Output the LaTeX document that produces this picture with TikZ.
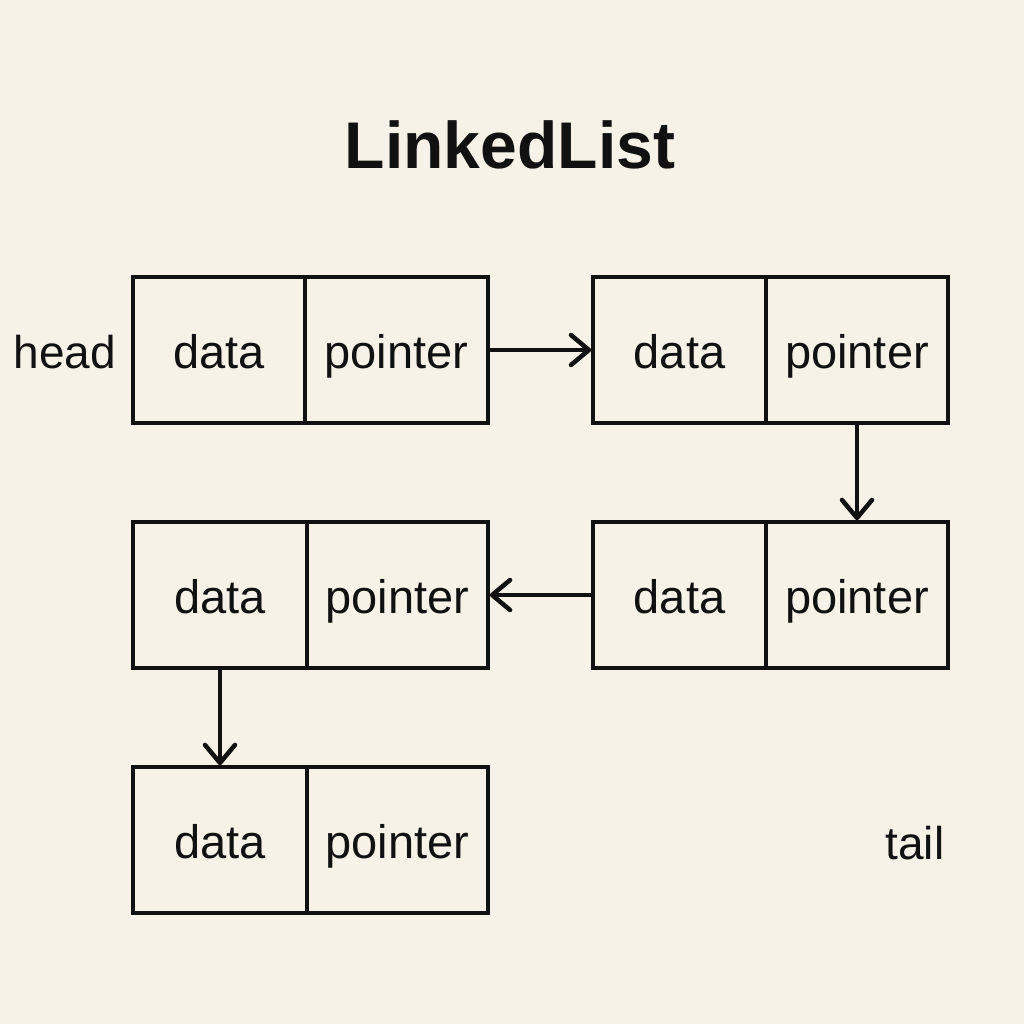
\documentclass[tikz,border=0pt]{standalone}
\usepackage{fontspec}
\setmainfont{Liberation Sans}
\usetikzlibrary{arrows.meta}
\definecolor{bg}{HTML}{F7F2E7}
\definecolor{ink}{HTML}{111111}
\begin{document}
\begin{tikzpicture}[x=1pt,y=-1pt,
  cell/.style={draw=ink, line width=3.6pt, minimum height=146pt, inner sep=0pt, text height=36pt, text depth=0pt, font=\fontsize{47}{50}\selectfont, text=ink},
  arr/.style={draw=ink, line width=3.6pt, -{Straight Barb[length=18pt,width=30pt,line width=4.5pt,round]}},
  lbl/.style={font=\fontsize{46}{50}\selectfont, text=ink, inner sep=0pt}]
\fill[bg] (0,0) rectangle (1024,1024);
\useasboundingbox (0,0) rectangle (1024,1024);
\node[font=\bfseries\fontsize{66}{70}\selectfont, text=ink] (title) at (510,145) {LinkedList};
% row 1 left
\node[cell, minimum width=172pt] (d1) at (219,350) {data};
\node[cell, minimum width=183pt] (p1) at (396.5,350) {pointer};
% row 1 right
\node[cell, minimum width=173pt] (d2) at (679.5,350) {data};
\node[cell, minimum width=182pt] (p2) at (857,350) {pointer};
% row 2 left
\node[cell, minimum width=174pt] (d3) at (220,595) {data};
\node[cell, minimum width=181pt] (p3) at (397.5,595) {pointer};
% row 2 right
\node[cell, minimum width=173pt] (d4) at (679.5,595) {data};
\node[cell, minimum width=182pt] (p4) at (857,595) {pointer};
% row 3
\node[cell, minimum width=174pt] (d5) at (220,840) {data};
\node[cell, minimum width=181pt] (p5) at (397.5,840) {pointer};
% labels
\node[lbl] (head) at (65,352) {head};
\node[lbl] (tail) at (915,843) {tail};
% arrows
\draw[arr] (p1.east) -- (d2.west);
\draw[arr] (p2.south) -- (p4.north);
\draw[arr] (d4.west) -- (p3.east);
\draw[arr] (d3.south) -- (d5.north);
\end{tikzpicture}
\end{document}
